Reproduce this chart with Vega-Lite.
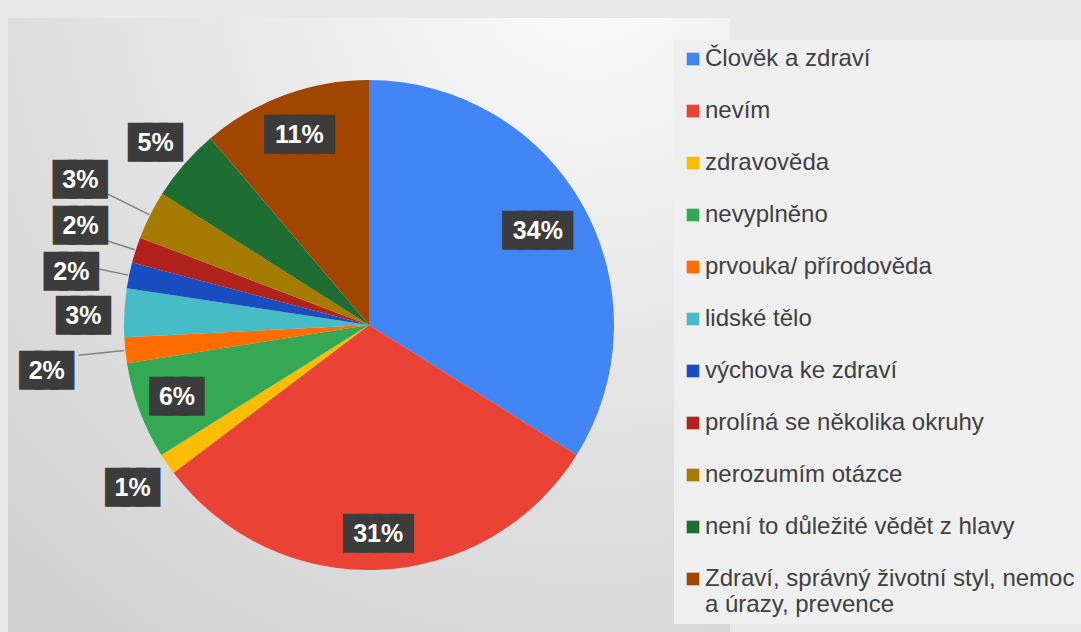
{
  "$schema": "https://vega.github.io/schema/vega-lite/v6.json",
  "width": 722,
  "height": 614,
  "autosize": {"type": "none"},
  "padding": {"left": 8, "top": 18, "right": 351, "bottom": 0},
  "background": "#e8e8e8",
  "config": {"font": "Liberation Sans", "view": {"stroke": null}},
  "layer": [
    {
      "data": {"values": [{"bg": 1}]},
      "mark": {
        "type": "rect",
        "color": {
          "gradient": "radial",
          "x1": 0.8, "y1": 0.0, "r1": 0,
          "x2": 0.8, "y2": 0.0, "r2": 1.2,
          "stops": [
            {"offset": 0, "color": "#fcfcfc"},
            {"offset": 0.5, "color": "#e4e4e4"},
            {"offset": 1, "color": "#d0d0d0"}
          ]
        }
      },
      "encoding": {
        "x": {"value": 0},
        "x2": {"value": "width"},
        "y": {"value": 0},
        "y2": {"value": "height"}
      }
    },
    {
      "data": {
        "values": [
          {"idx": 1, "category": "Člověk a zdraví", "share": 0.339},
          {"idx": 2, "category": "nevím", "share": 0.308},
          {"idx": 3, "category": "zdravověda", "share": 0.014},
          {"idx": 4, "category": "nevyplněno", "share": 0.064},
          {"idx": 5, "category": "prvouka/ přírodověda", "share": 0.017},
          {"idx": 6, "category": "lidské tělo", "share": 0.032},
          {"idx": 7, "category": "výchova ke zdraví", "share": 0.017},
          {"idx": 8, "category": "prolíná se několika okruhy", "share": 0.017},
          {"idx": 9, "category": "nerozumím otázce", "share": 0.032},
          {"idx": 10, "category": "není to důležité vědět z hlavy", "share": 0.048},
          {"idx": 11, "category": "Zdraví, správný životní styl, nemoc a úrazy, prevence", "share": 0.112}
        ]
      },
      "encoding": {
        "theta": {"field": "share", "type": "quantitative", "stack": true},
        "order": {"field": "idx", "type": "quantitative"}
      },
      "layer": [
        {
          "mark": {"type": "arc", "outerRadius": 245},
          "encoding": {
            "color": {
              "field": "category",
              "type": "nominal",
              "sort": null,
              "scale": {
                "domain": ["Člověk a zdraví", "nevím", "zdravověda", "nevyplněno", "prvouka/ přírodověda", "lidské tělo", "výchova ke zdraví", "prolíná se několika okruhy", "nerozumím otázce", "není to důležité vědět z hlavy", "Zdraví, správný životní styl, nemoc a úrazy, prevence"],
                "range": ["#4285f4", "#ea4335", "#fbbc04", "#34a853", "#ff6d01", "#46bdc6", "#1a4dbf", "#b0221b", "#a57b00", "#1e6e34", "#a14600"]
              },
              "legend": {
                "title": null,
                "orient": "none",
                "legendX": 666,
                "legendY": 22,
                "padding": 7,
                "fillColor": "#efefef",
                "symbolType": "square",
                "symbolSize": 160,
                "symbolStrokeWidth": 0,
                "labelFont": "Liberation Sans",
                "labelFontSize": 24,
                "labelColor": "#404040",
                "labelOffset": 0,
                "labelLimit": 500,
                "rowPadding": 28,
                "labelExpr": "datum.label == 'Zdraví, správný životní styl, nemoc a úrazy, prevence' ? ['Zdraví, správný životní styl, nemoc', 'a úrazy, prevence'] : datum.label"
              }
            }
          }
        },
        {
          "mark": {"type": "arc", "padAngle": 0.3, "filled": false, "stroke": "#808080", "strokeWidth": 1.5},
          "encoding": {
            "radius": {"value": 292},
            "radius2": {"value": 246},
            "strokeOpacity": {"condition": {"test": "indexof([5,7,8,9], datum.idx) >= 0", "value": 1}, "value": 0}
          }
        },
        {
          "mark": {
            "type": "text", "font": "DejaVu Sans Mono", "fontSize": 26, "color": "#3c3c3c",
            "stroke": "#3c3c3c", "strokeWidth": 8, "strokeJoin": "miter", "baseline": "middle",
            "radius": {"expr": "datum.idx == 1 ? 193 : datum.idx == 2 ? 209 : datum.idx == 4 ? 205 : datum.idx == 11 ? 202 : datum.idx == 3 ? 287 : datum.idx == 5 ? 324 : datum.idx == 6 ? 286 : datum.idx == 7 ? 304 : datum.idx == 8 ? 303 : datum.idx == 9 ? 323 : 283"},
            "dy": {"expr": "datum.idx == 5 ? 12 : datum.idx == 6 ? 5 : datum.idx == 7 ? 9 : datum.idx == 8 ? -6 : datum.idx == 10 ? 4 : 0"}
          },
          "encoding": {
            "text": {"condition": {"test": "datum.share < 0.1", "value": "███"}, "value": "████"}
          }
        },
        {
          "mark": {
            "type": "text", "font": "Liberation Sans", "fontWeight": "bold", "fontSize": 25, "color": "#ffffff", "baseline": "middle",
            "radius": {"expr": "datum.idx == 1 ? 193 : datum.idx == 2 ? 209 : datum.idx == 4 ? 205 : datum.idx == 11 ? 202 : datum.idx == 3 ? 287 : datum.idx == 5 ? 324 : datum.idx == 6 ? 286 : datum.idx == 7 ? 304 : datum.idx == 8 ? 303 : datum.idx == 9 ? 323 : 283"},
            "dy": {"expr": "datum.idx == 5 ? 12 : datum.idx == 6 ? 5 : datum.idx == 7 ? 9 : datum.idx == 8 ? -6 : datum.idx == 10 ? 4 : 0"}
          },
          "encoding": {
            "text": {"field": "share", "type": "quantitative", "format": ".0%"}
          }
        }
      ]
    }
  ]
}
